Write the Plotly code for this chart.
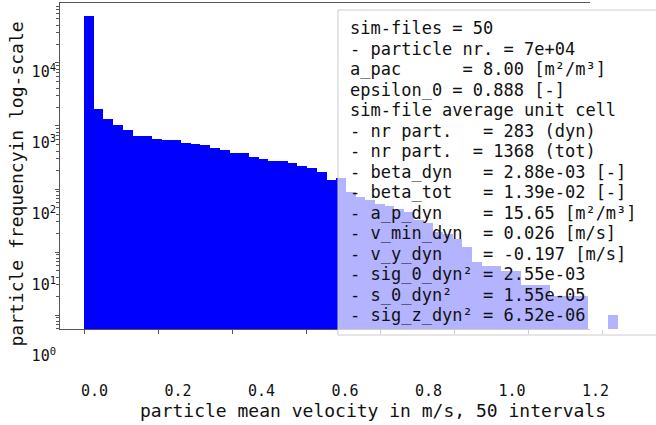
import plotly.graph_objects as go

# ---------------- data ----------------
bin_start = 0.0
bin_width = 0.02622  # m/s
counts = [55700, 1880, 1306, 1038, 865, 693, 693, 622, 600, 600,
          537, 518, 499, 448, 416, 373, 373, 322, 299, 278,
          278, 259, 232, 215, 186, 139, 150, 90, 75, 67,
          58, 54, 48, 43, 32, 29, 21, 19, 16, 12,
          7, 6, 6, 5, 5, 3, 3, 3, 2, 2,
          2, 2, 0, 0, 1]

x_tick_vals = [0.0, 0.2, 0.4, 0.6, 0.8, 1.0, 1.2]
x_tick_text = ["0.0", "0.2", "0.4", "0.6", "0.8", "1.0", "1.2"]
y_tick_vals = [1, 10, 100, 1000, 10000]
y_tick_text = ["10<sup>0</sup>", "10<sup>1</sup>", "10<sup>2</sup>", "10<sup>3</sup>", "10<sup>4</sup>"]

x_title = "particle mean velocity in m/s, 50 intervals"
y_title = "particle frequencyin log-scale"

info_lines = [
    "sim-files = 50",
    "- particle nr. = 7e+04",
    "a_pac      = 8.00 [m²/m³]",
    "epsilon_0 = 0.888 [-]",
    "sim-file average unit cell",
    "- nr part.   = 283 (dyn)",
    "- nr part.  = 1368 (tot)",
    "- beta_dyn   = 2.88e-03 [-]",
    "- beta_tot   = 1.39e-02 [-]",
    "- a_p_dyn    = 15.65 [m²/m³]",
    "- v_min_dyn  = 0.026 [m/s]",
    "- v_y_dyn    = -0.197 [m/s]",
    "- sig_0_dyn² = 2.55e-03",
    "- s_0_dyn²   = 1.55e-05",
    "- sig_z_dyn² = 6.52e-06",
]

# ---------------- figure ----------------
centers = [bin_start + bin_width * (i + 0.5) for i in range(len(counts))]
yvals = [c if c > 0 else None for c in counts]

W, H = 656, 425
L, R, T, B = 60, 0, 3, 60
PW, PH = W - L - R, H - T - B

def px_x(px):
    return (px - L) / PW

def px_y(py):
    return (H - B - py) / PH

AX = "#555555"
FONT = "DejaVu Sans Mono"

fig = go.Figure()
fig.add_trace(go.Bar(x=centers, y=yvals, width=bin_width,
                     marker=dict(color="#0000ff", line=dict(width=0)),
                     xaxis="x", yaxis="y", showlegend=False))
# helper traces so the label / frame axes exist
fig.add_trace(go.Scatter(x=[None], y=[None], xaxis="x2", yaxis="y2",
                         showlegend=False, hoverinfo="skip"))
fig.add_trace(go.Scatter(x=[None], y=[None], xaxis="x3", yaxis="y",
                         showlegend=False, hoverinfo="skip"))

y_dom0 = px_y(329)

fig.update_layout(
    template="none",
    width=W, height=H,
    margin=dict(l=L, r=R, t=T, b=B, pad=0),
    paper_bgcolor="white", plot_bgcolor="rgba(0,0,0,0)",
    font=dict(family=FONT, color="#111111"),
    bargap=0,
    xaxis=dict(domain=[0, 1], anchor="y", range=[-0.06486, 1.54595],
               tick0=0, dtick=0.2, ticks="outside", ticklen=4, tickwidth=1,
               tickcolor=AX, showticklabels=False, showline=False,
               showgrid=False, zeroline=False),
    yaxis=dict(domain=[y_dom0, 1], anchor="x", type="log",
               range=[-0.222, 4.952], dtick=1, ticks="outside", ticklen=4,
               tickwidth=1, tickcolor=AX, showticklabels=False,
               showline=True, linecolor=AX, linewidth=1.3,
               showgrid=False, zeroline=False,
               minor=dict(ticks="outside", ticklen=2.5, tickcolor=AX,
                          tickwidth=1, showgrid=False)),
    xaxis3=dict(domain=[0, px_x(590)], anchor="y", range=[0, 1],
                showline=True, mirror=True, linecolor=AX, linewidth=1.3,
                ticks="", showticklabels=False, showgrid=False,
                zeroline=False),
    xaxis2=dict(domain=[px_x(90), 1], anchor="free", position=0,
                range=[-0.01078, 1.34491], tickmode="array",
                tickvals=x_tick_vals, ticktext=x_tick_text, ticks="",
                showline=False, showgrid=False, zeroline=False,
                tickfont=dict(family=FONT, size=15, color="#111111"),
                ticklabelstandoff=15,
                title=dict(text=x_title, standoff=2,
                           font=dict(family=FONT, size=18, color="#111111"))),
    yaxis2=dict(domain=[0, 1], anchor="free", position=0, type="log",
                range=[-0.1268, 4.9718], tickmode="array",
                tickvals=y_tick_vals, ticktext=y_tick_text, ticks="",
                showline=False, showgrid=False, zeroline=False,
                tickfont=dict(family=FONT, size=15, color="#111111"),
                ticklabelstandoff=4,
                title=dict(text=y_title, standoff=2,
                           font=dict(family=FONT, size=18, color="#111111"))),
)

fig.add_shape(type="rect", xref="paper", yref="paper",
              x0=px_x(338), x1=px_x(720), y0=px_y(335), y1=px_y(10),
              fillcolor="rgba(255,255,255,0.7)",
              line=dict(color="#cccccc", width=1), layer="above")

for i, line in enumerate(info_lines):
    fig.add_annotation(xref="paper", yref="paper", x=px_x(348),
                       y=px_y(28 + 20.5 * i), xanchor="left", yanchor="middle",
                       text=line, showarrow=False, align="left",
                       font=dict(family=FONT, size=17, color="#111111"))

fig.write_html("out.html")
